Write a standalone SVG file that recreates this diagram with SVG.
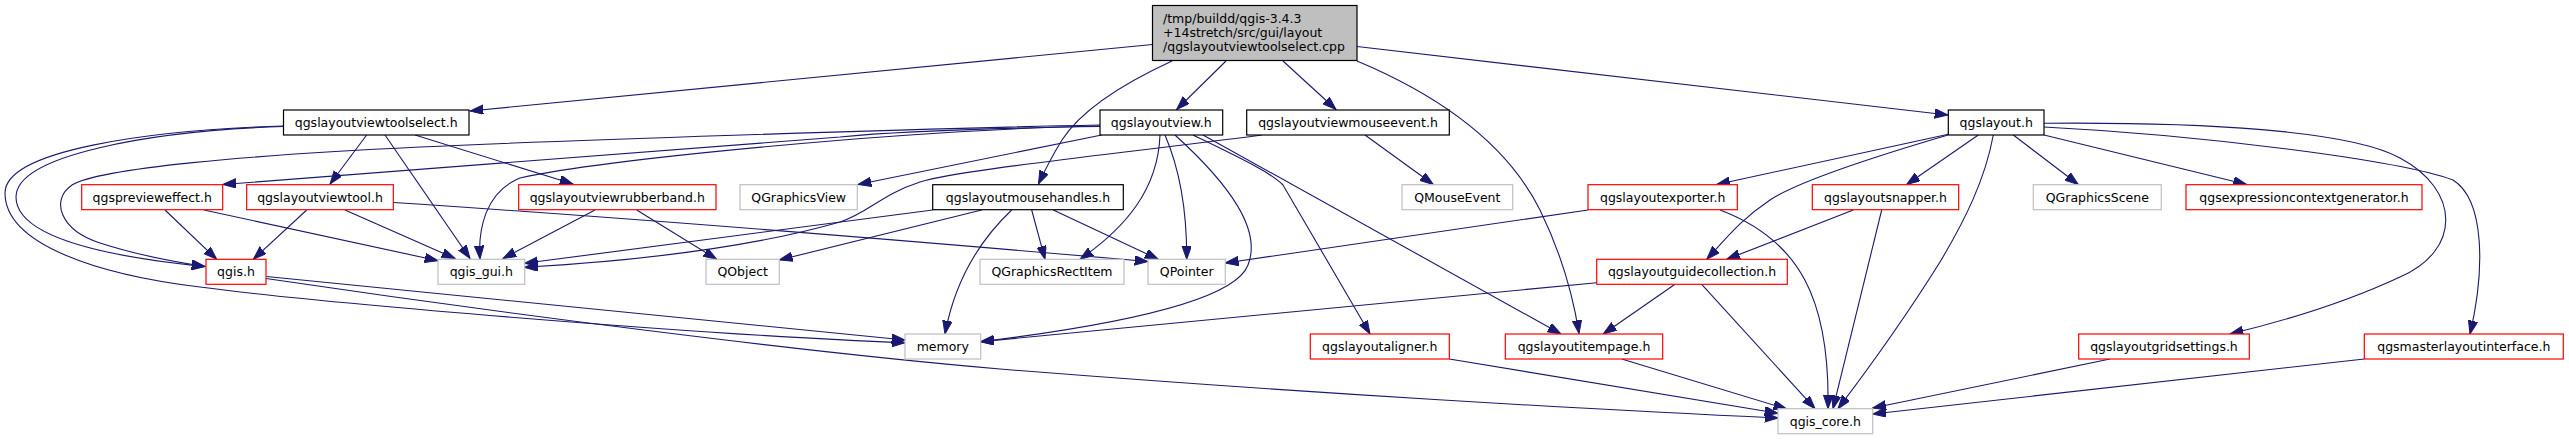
<svg xmlns="http://www.w3.org/2000/svg" width="2569" height="440" viewBox="0 0 2569 440">
<style>
.n rect{fill:#ffffff;stroke-width:1.2}
.blk rect{stroke:#000000}
.red rect{stroke:#ff0000}
.gry rect{stroke:#bfbfbf}
.main rect{fill:#bfbfbf;stroke:#000000;stroke-width:1.2}
text{font-family:"DejaVu Sans","Liberation Sans",sans-serif;font-size:12.5px;fill:#000000}
.n text{text-anchor:middle}
.main text{text-anchor:start}
#edges path{fill:none;stroke:#191970;stroke-width:1.1}
</style>
<defs>
<marker id="ah" markerUnits="userSpaceOnUse" markerWidth="14" markerHeight="10" refX="13.3" refY="4.7" orient="auto">
<path d="M0,0 L13.3,4.7 L0,9.4 z" fill="#191970" stroke="#191970" stroke-width="1"/>
</marker>
</defs>
<rect width="2569" height="440" fill="#ffffff"/>
<g id="edges">
<path marker-end="url(#ah)" d="M1152.5,44.5 L470,111"/>
<path marker-end="url(#ah)" d="M1226,61 L1176.7,109.5"/>
<path marker-end="url(#ah)" d="M1172,61 C1120,85 1080,112 1062,140 C1052,156 1045,170 1038.5,184"/>
<path marker-end="url(#ah)" d="M1283,61 L1336,109.5"/>
<path marker-end="url(#ah)" d="M1357,61 C1450,100 1510,150 1540,210 C1562,255 1573,295 1579,333.5"/>
<path marker-end="url(#ah)" d="M1357,46.5 L1948,115"/>
<path marker-end="url(#ah)" d="M366.7,135 L330,184"/>
<path marker-end="url(#ah)" d="M385,135 L470,258.5"/>
<path marker-end="url(#ah)" d="M415,135 L573,184"/>
<path marker-end="url(#ah)" d="M283.5,126.5 C150,131 16,155 16,197 C16,240 120,258 205,266.5"/>
<path marker-end="url(#ah)" d="M283.5,126 C150,130 5,150 5,193 C5,245 100,275 200,287 C320,303 700,335 905,342.7"/>
<path marker-end="url(#ah)" d="M266.5,276.5 L905,340"/>
<path marker-end="url(#ah)" d="M266,278.5 C500,313 800,352 1000,369 C1300,393 1600,410 1778,418"/>
<path marker-end="url(#ah)" d="M165,210 L216.7,259.3"/>
<path marker-end="url(#ah)" d="M204,210 L438,260.7"/>
<path marker-end="url(#ah)" d="M306.7,210 L253.3,259.3"/>
<path marker-end="url(#ah)" d="M345,210 L455,258.5"/>
<path marker-end="url(#ah)" d="M393.3,202.5 C600,216 900,240 1148,261.5"/>
<path marker-end="url(#ah)" d="M595,210 L503,258.5"/>
<path marker-end="url(#ah)" d="M636.7,210 L716.7,259.3"/>
<path marker-end="url(#ah)" d="M1100,125 C900,129 550,141 420,147 C250,155 100,168 72,185 C50,200 60,230 100,243 C140,256 175,262 205,266.5"/>
<path marker-end="url(#ah)" d="M1100,126.5 C1000,128 900,131 840,137 L222.7,184.5"/>
<path marker-end="url(#ah)" d="M1100,126 C900,130 600,160 520,178 C485,192 478,230 480,259"/>
<path marker-end="url(#ah)" d="M1101.7,135 L858,184.5"/>
<path marker-end="url(#ah)" d="M1160,135 C1158,190 1125,228 1080,259.3"/>
<path marker-end="url(#ah)" d="M1165,135 C1180,170 1187,210 1186.7,259.3"/>
<path marker-end="url(#ah)" d="M1175,135 C1230,185 1262,230 1248,265 C1232,308 1060,332 980.7,341.7"/>
<path marker-end="url(#ah)" d="M1193,135 C1240,158 1270,172 1283,185 L1370,334"/>
<path marker-end="url(#ah)" d="M1203,135 L1561,334"/>
<path marker-end="url(#ah)" d="M1365,135 L1433.3,184.5"/>
<path marker-end="url(#ah)" d="M1262,135 C1100,156 960,170 920,182 C880,195 870,212 840,222 C760,245 650,260 524.5,267.3"/>
<path marker-end="url(#ah)" d="M932.7,210 L524.5,263.3"/>
<path marker-end="url(#ah)" d="M981.7,210 L779.3,260"/>
<path marker-end="url(#ah)" d="M1011.7,210 C980,240 955,280 945,334"/>
<path marker-end="url(#ah)" d="M1031.7,210 L1045,259.3"/>
<path marker-end="url(#ah)" d="M1053.3,210 L1158.3,259.3"/>
<path marker-end="url(#ah)" d="M1588,210 L1225.3,263"/>
<path marker-end="url(#ah)" d="M1720,210 C1800,240 1830,300 1828,408.7"/>
<path marker-end="url(#ah)" d="M1596.7,282.7 L980.7,341.7"/>
<path marker-end="url(#ah)" d="M1675,284.3 L1603.3,334"/>
<path marker-end="url(#ah)" d="M1701.7,284.3 L1815,408.7"/>
<path marker-end="url(#ah)" d="M1621.7,359 L1786.7,409"/>
<path marker-end="url(#ah)" d="M1449.3,359 L1778,413.3"/>
<path marker-end="url(#ah)" d="M1948.3,134.3 L1716.7,184.5"/>
<path marker-end="url(#ah)" d="M1948,135 C1880,155 1800,180 1770,200 C1740,220 1725,240 1706.7,259.3"/>
<path marker-end="url(#ah)" d="M1978.3,135 L1906.7,184.5"/>
<path marker-end="url(#ah)" d="M1993.3,135 C1985,180 1965,220 1940,262 C1910,310 1875,360 1838,408.7"/>
<path marker-end="url(#ah)" d="M2013.3,135 L2078.3,184.5"/>
<path marker-end="url(#ah)" d="M2044,135 L2246.7,184.5"/>
<path marker-end="url(#ah)" d="M2044,123.3 C2200,122 2350,130 2400,158 C2460,190 2462,250 2400,277 C2340,305 2280,322 2230,334"/>
<path marker-end="url(#ah)" d="M2044,127 C2200,135 2400,160 2453,180 C2485,200 2485,270 2470,334"/>
<path marker-end="url(#ah)" d="M1853.3,210 L1726.7,259.3"/>
<path marker-end="url(#ah)" d="M1881.7,210 L1833,408.7"/>
<path marker-end="url(#ah)" d="M2110,359 L1872.7,408"/>
<path marker-end="url(#ah)" d="M2364.3,359 L1872.7,414"/>
</g>
<g id="n_main" class="main"><rect x="1152.5" y="5.5" width="204.5" height="55"/><text x="1163" y="22.7">/tmp/buildd/qgis-3.4.3</text><text x="1163" y="37">+14stretch/src/gui/layout</text><text x="1163" y="51.3">/qgslayoutviewtoolselect.cpp</text></g>
<g id="n_toolselect" class="n blk"><rect x="283.5" y="110" width="185.5" height="25"/><text x="376.2" y="126.8">qgslayoutviewtoolselect.h</text></g>
<g id="n_view" class="n blk"><rect x="1100" y="110" width="122.7" height="25"/><text x="1161.3" y="126.8">qgslayoutview.h</text></g>
<g id="n_mouseevent" class="n blk"><rect x="1246.7" y="110" width="202.6" height="25"/><text x="1348" y="126.8">qgslayoutviewmouseevent.h</text></g>
<g id="n_layout" class="n blk"><rect x="1948.3" y="110" width="95.7" height="25"/><text x="1996.2" y="126.8">qgslayout.h</text></g>
<g id="n_preview" class="n red"><rect x="81.7" y="184.7" width="141" height="25"/><text x="152.2" y="201.5">qgsprevieweffect.h</text></g>
<g id="n_viewtool" class="n red"><rect x="246.7" y="184.7" width="146.6" height="25"/><text x="320" y="201.5">qgslayoutviewtool.h</text></g>
<g id="n_rubberband" class="n red"><rect x="518.7" y="184.7" width="197.3" height="25"/><text x="617.3" y="201.5">qgslayoutviewrubberband.h</text></g>
<g id="n_qgraphicsview" class="n gry"><rect x="740" y="184.7" width="117.3" height="25"/><text x="798.7" y="201.5">QGraphicsView</text></g>
<g id="n_mousehandles" class="n blk"><rect x="932.7" y="184.7" width="190.6" height="25"/><text x="1028" y="201.5">qgslayoutmousehandles.h</text></g>
<g id="n_qmouseevent" class="n gry"><rect x="1402" y="184.7" width="110.7" height="25"/><text x="1457.3" y="201.5">QMouseEvent</text></g>
<g id="n_exporter" class="n red"><rect x="1588" y="184.7" width="149.3" height="25"/><text x="1662.7" y="201.5">qgslayoutexporter.h</text></g>
<g id="n_snapper" class="n red"><rect x="1812.3" y="184.7" width="146.4" height="25"/><text x="1885.5" y="201.5">qgslayoutsnapper.h</text></g>
<g id="n_qgraphicsscene" class="n gry"><rect x="2033.3" y="184.7" width="128" height="25"/><text x="2097.3" y="201.5">QGraphicsScene</text></g>
<g id="n_exprgen" class="n red"><rect x="2186" y="184.7" width="236" height="25"/><text x="2304" y="201.5">qgsexpressioncontextgenerator.h</text></g>
<g id="n_qgis" class="n red"><rect x="206" y="259.3" width="60" height="25"/><text x="236" y="276.1">qgis.h</text></g>
<g id="n_qgisgui" class="n gry"><rect x="438" y="259.3" width="86.7" height="25"/><text x="481.3" y="276.1">qgis_gui.h</text></g>
<g id="n_qobject" class="n gry"><rect x="706" y="259.3" width="73.3" height="25"/><text x="742.7" y="276.1">QObject</text></g>
<g id="n_rectitem" class="n gry"><rect x="980" y="259.3" width="144" height="25"/><text x="1052" y="276.1">QGraphicsRectItem</text></g>
<g id="n_qpointer" class="n gry"><rect x="1148" y="259.3" width="77.3" height="25"/><text x="1186.7" y="276.1">QPointer</text></g>
<g id="n_guidecoll" class="n red"><rect x="1596.7" y="259.3" width="190.6" height="25"/><text x="1692" y="276.1">qgslayoutguidecollection.h</text></g>
<g id="n_memory" class="n gry"><rect x="905" y="334" width="75.7" height="25"/><text x="942.8" y="350.8">memory</text></g>
<g id="n_aligner" class="n red"><rect x="1310.3" y="334" width="139" height="25"/><text x="1379.8" y="350.8">qgslayoutaligner.h</text></g>
<g id="n_itempage" class="n red"><rect x="1505.3" y="334" width="157.4" height="25"/><text x="1584" y="350.8">qgslayoutitempage.h</text></g>
<g id="n_gridsettings" class="n red"><rect x="2078.7" y="334" width="170.6" height="25"/><text x="2164" y="350.8">qgslayoutgridsettings.h</text></g>
<g id="n_master" class="n red"><rect x="2364.3" y="334" width="199" height="25"/><text x="2463.8" y="350.8">qgsmasterlayoutinterface.h</text></g>
<g id="n_qgiscore" class="n gry"><rect x="1778" y="408.7" width="94.7" height="25"/><text x="1825.3" y="425.5">qgis_core.h</text></g>
</svg>
